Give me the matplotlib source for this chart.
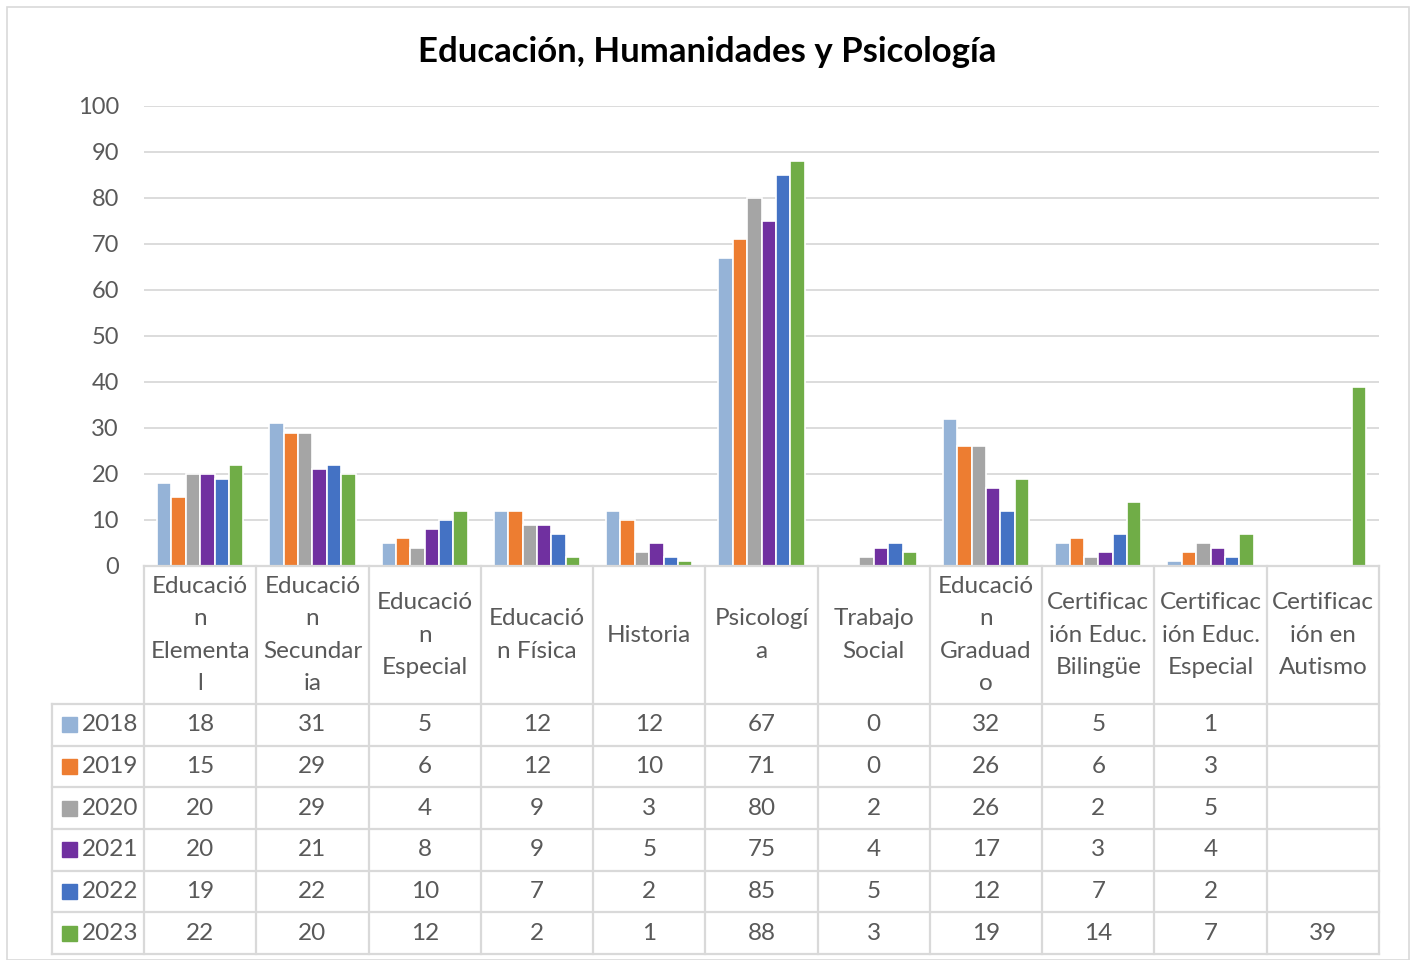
import numpy as np
import matplotlib.pyplot as plt
from matplotlib.patches import Rectangle

plt.rcParams['font.family'] = ['Lato', 'DejaVu Sans']

# data
categories = ["Educació\nn\nElementa\nl", "Educació\nn\nSecundar\nia", "Educació\nn\nEspecial",
              "Educació\nn Física", "Historia", "Psicologí\na", "Trabajo\nSocial",
              "Educació\nn\nGraduad\no", "Certificac\nión Educ.\nBilingüe",
              "Certificac\nión Educ.\nEspecial", "Certificac\nión en\nAutismo"]
years = ["2018", "2019", "2020", "2021", "2022", "2023"]
nan = np.nan
v2018 = [18, 31, 5, 12, 12, 67, 0, 32, 5, 1, nan]
v2019 = [15, 29, 6, 12, 10, 71, 0, 26, 6, 3, nan]
v2020 = [20, 29, 4, 9, 3, 80, 2, 26, 2, 5, nan]
v2021 = [20, 21, 8, 9, 5, 75, 4, 17, 3, 4, nan]
v2022 = [19, 22, 10, 7, 2, 85, 5, 12, 7, 2, nan]
v2023 = [22, 20, 12, 2, 1, 88, 3, 19, 14, 7, 39]
series = [v2018, v2019, v2020, v2021, v2022, v2023]
colors = ["#95B3D7", "#ED7D31", "#A5A5A5", "#7030A0", "#4472C4", "#70AD47"]

W, H = 1414, 960
fig = plt.figure(figsize=(W / 100, H / 100), dpi=100)

# outer chart border
fig.patches.append(Rectangle((7 / W, 0), 1402 / W, 953 / H, transform=fig.transFigure,
                             fill=False, edgecolor="#D9D9D9", lw=1.2))

fig.text(707 / W, 1 - 52 / H, "Educación, Humanidades y Psicología", ha="center", va="center",
         fontsize=25, fontweight="bold", color="black")

# bar chart area
ax = fig.add_axes([144 / W, 1 - 566 / H, 1235 / W, 460 / H])
n = len(categories)
x = np.arange(n)
bw = 0.128
for k, (vals, c) in enumerate(zip(series, colors)):
    ax.bar(x + (k - 2.5) * bw, vals, width=bw, color=c, edgecolor="white", lw=1.2, zorder=3)
ax.set_xlim(-0.5, n - 0.5)
ax.set_ylim(0, 100)
ax.set_yticks(range(0, 101, 10))
ax.yaxis.grid(True, color="#D9D9D9", lw=1.3, zorder=0)
ax.tick_params(axis="y", length=0, pad=18, labelsize=17, labelcolor="#595959")
ax.set_xticks([])
for s in ax.spines.values():
    s.set_visible(False)

# data table below
tb = fig.add_axes([52 / W, 1 - 954 / H, 1327 / W, 388 / H])
left = -0.5 - 92 / (1235 / n)
tb.set_xlim(left, n - 0.5)
tb.set_ylim(388, 0)
tb.axis("off")
lc = "#D9D9D9"
head_h = 138
row_h = (388 - head_h) / len(years)
fs = 17.5

# header row
tb.plot([-0.5, n - 0.5], [0, 0], color=lc, lw=1.6, clip_on=False)
for i in range(n + 1):
    tb.plot([i - 0.5, i - 0.5], [0, 388], color=lc, lw=1.6, clip_on=False)
tb.plot([left, left], [head_h, 388], color=lc, lw=1.6, clip_on=False)
for r in range(len(years) + 1):
    yy = head_h + r * row_h
    tb.plot([left, n - 0.5], [yy, yy], color=lc, lw=1.6, clip_on=False)

for i, cat in enumerate(categories):
    tb.text(i, head_h / 2, cat, ha="center", va="center", fontsize=fs, color="#595959",
            linespacing=1.66)

sq = 15 / (1235 / n)
for r, (yr, vals, c) in enumerate(zip(years, series, colors)):
    yc = head_h + (r + 0.5) * row_h
    tb.add_patch(Rectangle((left + 10 / (1235 / n), yc - 7.5), sq, 15, color=c, clip_on=False))
    tb.text(left + 30 / (1235 / n), yc, yr, ha="left", va="center", fontsize=fs, color="#595959")
    for i, v in enumerate(vals):
        if np.isnan(v):
            continue
        tb.text(i, yc, f"{v:.0f}", ha="center", va="center", fontsize=fs, color="#595959")

fig.savefig("out.png", dpi=100)
